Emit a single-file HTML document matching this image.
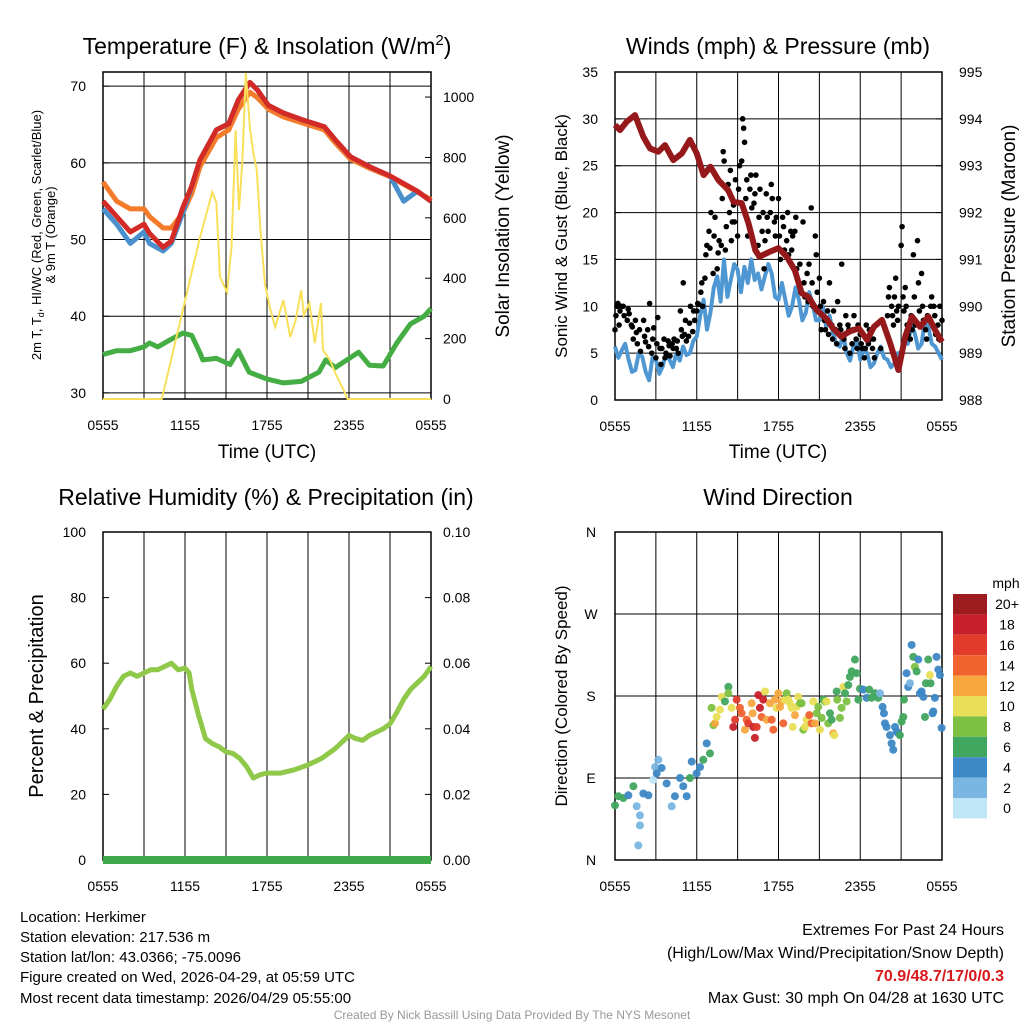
<!DOCTYPE html>
<html><head><meta charset="utf-8"><style>
html,body{margin:0;padding:0;background:#fff;}
svg{display:block;font-family:"Liberation Sans",sans-serif;}
</style></head><body>
<svg id="chart" width="1024" height="1024" viewBox="0 0 1024 1024" xmlns="http://www.w3.org/2000/svg">
<rect width="1024" height="1024" fill="#fff"/>
<g id="layer"></g>
<text x="267" y="54" font-size="23" text-anchor="middle">Temperature (F) &amp; Insolation (W/m<tspan dy="-9" font-size="15">2</tspan><tspan dy="9">)</tspan></text>
<text x="778" y="54" font-size="23" text-anchor="middle">Winds (mph) &amp; Pressure (mb)</text>
<text x="266" y="505" font-size="23" text-anchor="middle">Relative Humidity (%) &amp; Precipitation (in)</text>
<text x="778" y="505" font-size="23" text-anchor="middle">Wind Direction</text>
<text x="267" y="458" font-size="19" text-anchor="middle">Time (UTC)</text>
<text x="778" y="458" font-size="19" text-anchor="middle">Time (UTC)</text>
<text transform="translate(41,235) rotate(-90)" font-size="13" text-anchor="middle">2m T, T<tspan font-size="9" dy="3">d</tspan><tspan dy="-3">, HI/WC (Red, Green, Scarlet/Blue)</tspan></text>
<text transform="translate(55,235) rotate(-90)" font-size="13" text-anchor="middle">&amp; 9m T (Orange)</text>
<text transform="translate(509,236) rotate(-90)" font-size="19" text-anchor="middle">Solar Insolation (Yellow)</text>
<text transform="translate(567,236) rotate(-90)" font-size="17" text-anchor="middle">Sonic Wind &amp; Gust (Blue, Black)</text>
<text transform="translate(1015,236) rotate(-90)" font-size="19" text-anchor="middle">Station Pressure (Maroon)</text>
<text transform="translate(43,696) rotate(-90)" font-size="20" text-anchor="middle">Percent &amp; Precipitation</text>
<text transform="translate(567,696) rotate(-90)" font-size="17" text-anchor="middle">Direction (Colored By Speed)</text>
<g font-size="15">
<text x="20" y="922">Location: Herkimer</text>
<text x="20" y="942">Station elevation: 217.536 m</text>
<text x="20" y="962">Station lat/lon: 43.0366; -75.0096</text>
<text x="20" y="982">Figure created on Wed, 2026-04-29, at 05:59 UTC</text>
<text x="20" y="1003">Most recent data timestamp: 2026/04/29 05:55:00</text>
</g>
<g font-size="16" text-anchor="end">
<text x="1004" y="935">Extremes For Past 24 Hours</text>
<text x="1004" y="958">(High/Low/Max Wind/Precipitation/Snow Depth)</text>
<text x="1004" y="981" fill="#d7191c" font-weight="bold">70.9/48.7/17/0/0.3</text>
<text x="1004" y="1003">Max Gust: 30 mph On 04/28 at 1630 UTC</text>
</g>
<text x="512" y="1019" font-size="12" fill="#999" text-anchor="middle">Created By Nick Bassill Using Data Provided By The NYS Mesonet</text>
</svg>
<script>
const xTickLabels=["0555","1155","1755","2355","0555"];
// Temperature panel data
const tempHours=[0,1,2,3,3.4,4.4,5,5.85,6.5,7.1,8.3,9.2,9.9,10.75,11.3,12.1,13.2,14.6,16.2,17,18.1,19.5,21,22,23,24];
const tempRed=[55,53,51,52,50.8,49,49.8,54.2,57,60.4,64.3,65.1,68.2,70.5,69.5,67.5,66.5,65.6,64.7,63,60.8,59.5,58.3,57.3,56.3,55];
const tempOrange=[57.5,55,54,54,53,51.5,51.5,53.5,56,59.5,63.3,64.3,67,69.2,68.5,67,66,65.2,64.3,62.6,60.5,59.3,58.2,57.2,56.2,55.2];
const tempBlue=[54,52,49.5,51,49.5,48.5,49.5,53.5,57,60.4,64.3,65.1,68.2,70.5,69.5,67.5,66.5,65.6,64.7,63,60.8,59.5,58.3,55,56.3,55];
const dewHours=[0,1,2,3,3.4,4,5,5.85,6.5,7.1,7.3,8.3,9.3,9.9,10.7,12,13.2,14.5,15.8,16.3,17,18.7,19.5,20.5,21.5,22.5,23.5,24];
const dewValues=[35,35.5,35.5,36,36.5,36,37,37.8,37.5,35.2,34.3,34.5,33.7,35.5,32.7,31.8,31.3,31.5,32.7,34.3,33.3,35.3,33.6,33.5,36.5,39,40,41];
const solarHours=[0,4.3,5.85,7.1,8.0,8.3,8.56,9.07,9.4,9.7,9.95,10.2,10.45,10.75,11.0,11.25,11.5,11.85,12.2,12.6,13.2,13.7,14.1,14.5,14.7,15.1,15.5,15.95,16.1,16.6,17.0,17.6,17.9,24];
const solarValues=[0,0,295,536,685,650,404,354,503,890,626,790,1080,900,815,758,570,384,305,238,328,205,262,361,278,318,185,318,162,129,86,30,0,0];
// Wind panel data
const pressHours=[0,0.37,0.86,1.47,2.08,2.57,3.18,3.67,4.28,4.9,5.5,6.0,6.5,7.0,7.6,8.3,8.7,9.3,9.8,10.3,10.6,11.4,12.0,12.6,13.2,13.7,14.2,14.8,15.5,16.0,16.6,17.2,17.9,18.5,19.0,19.6,20.2,20.8,21.3,21.8,22.4,23.0,23.5,24];
const pressValues=[993.87,993.76,993.94,994.08,993.62,993.37,993.3,993.44,993.12,993.26,993.55,993.26,992.8,992.98,992.69,992.48,992.23,992.2,991.77,991.2,991.06,991.17,991.24,991.06,990.77,990.28,990.2,989.92,989.74,989.53,989.35,989.46,989.53,989.28,989.56,989.71,989.21,988.64,989.35,989.78,989.56,989.78,989.49,989.24];
const windHours=[0,0.25,0.5,0.75,1,1.25,1.5,1.75,2,2.25,2.5,2.75,3,3.25,3.5,3.75,4,4.25,4.5,4.75,5,5.25,5.5,5.75,6,6.25,6.5,6.75,7,7.25,7.5,7.75,8,8.25,8.5,8.75,9,9.25,9.5,9.75,10,10.25,10.5,10.75,11,11.25,11.5,11.75,12,12.25,12.5,12.75,13,13.25,13.5,13.75,14,14.25,14.5,14.75,15,15.25,15.5,15.75,16,16.25,16.5,16.75,17,17.25,17.5,17.75,18,18.25,18.5,18.75,19,19.25,19.5,19.75,20,20.25,20.5,20.75,21,21.25,21.5,21.75,22,22.25,22.5,22.75,23,23.25,23.5,23.75,24];
const windValues=[5.7,4.5,5.3,6,4.3,3,3.2,5,4.6,3,2.1,4.5,4.3,2.8,3.6,5,4.3,3.5,5,4.2,5.7,4.8,5,6.3,6.8,9,10.7,7.5,9.3,12,13.2,10.5,15,11,12.8,14.5,13.9,11.5,14.2,12.5,15,12.8,13.5,11.8,13.2,14.5,13.5,11,10.7,12.5,10.7,9,10,12,10.7,8.5,9.3,11.5,10.3,8.5,8.5,10,7.8,9,7.1,6,5.7,7,5,4.2,5.7,6.5,4.3,5.5,5,3.5,3.9,5,5.7,4.5,4.3,3.5,3.9,5,5,6.5,6,8,7.1,5.5,6,8.5,7.8,6,5.7,5,4.3];
const gustTimes=[0,0.3,0.6,0.9,1.2,1.5,1.8,2.1,2.4,2.7,3.0,3.3,3.6,3.9,4.2,4.5,4.8,5.1,5.4,5.7,6.0,6.3,6.6,6.9,7.2,7.5,7.8,8.1,8.4,8.7,9.0,9.3,9.6,9.9,10.2,10.5,10.8,11.1,11.4,11.7,12.0,12.3,12.6,12.9,13.2,13.5,13.8,14.1,14.4,14.7,15.0,15.3,15.6,15.9,16.2,16.5,16.8,17.1,17.4,17.7,18.0,18.3,18.6,18.9,19.5,20.0,20.3,20.6,21.0,21.3,21.6,21.9,22.2,22.5,22.8,23.1,23.4,23.7,24.0];
const gustValues=[[7.5,9,10,10.3],[8,9.5,10],[10,9],[8.5,9.7,9.2],[8,7.8,6.5],[8.5,7.2,6],[7.5,5.2],[8.5,6.8,6.2],[7.5,5.7,10.3],[5,6.5,7.7],[4.5,6,8.8],[5.5,3.8,5.5],[6.5,4.5,5],[6.3,5.8,4.7],[6,5.5,6.5],[5.5,6.3,5],[9.5,7.5,6.8,12.5],[7,8.5,6.3],[6.8,8.2,10],[7.3,9.5,8.5],[9.5,10.3,10.2],[11.5,12.5,10],[13,15.5,16.5],[18,16.2,20],[13.5,17.5,19.5],[14,15.7,17],[16.5,21.5,26.5,25.5],[16,18.5,22.5,23],[20,24.5,17,19],[20.8,19,23.5],[17.5,22.5,25],[25.5,30,29,27.5],[21.5,23.5,17.5],[22.5,24,20.5],[21,22,24],[16.5,19.5,22.5],[18,20,14,17],[22,19.5,18],[20,23,21.5],[19,17.5,19.5],[21.5,17.5,15],[19.5,18.5,16],[17,20,15.5],[18,16,17.5],[18,19.5,14],[12.5,14.5,11.5],[19,12.5,11],[13.5,10.5,14.5],[20.5,12.5,10],[17.5,15.5,11.5],[13,10,7.5],[10.5,8.5,7.5],[9.5,7,12.5],[8,6.5,9.5],[7.5,6,10.5],[8,7.5,14.5],[6.5,5.5,9],[8,7.5,5],[6,7.5,9],[6.5,5.5,8],[7,6,5.5],[4.5,5.5,8],[6,7.5,6.5],[5.5,6.5,4.5],[5.5],[9,11,12],[10,9,8,11],[13,9.5,8.5,10],[16.5,18.5,11,9.5],[12,10,8,7],[8,6.5,9,7.5],[15.5,11,8],[17,12.5,9.5],[13.5,10,8.5],[7.5,6.5,9],[8.5,10,11],[10,9,7],[8,6.5,10],[8.5]];
// RH panel data
const rhHours=[0,0.5,1,1.5,2,2.5,3,3.5,4,4.5,5,5.5,6,6.3,6.5,7,7.5,8,8.5,9,9.5,10,10.5,11,11.5,12,13,14,15,16,17,17.5,18,18.5,19,19.5,20,20.5,21,21.5,22,22.5,23,23.5,24];
const rhValues=[46,49,53,56,57,56,57,58,58,59,60,58,58.5,57,52,44,37,35.5,34.5,33,32.5,31,28.5,25,26,26.5,26.5,27.5,29,31,34,36,38,37,36.5,38,39,40,41.5,45,49,52,54,56,59];
const precipHours=[0,24];
const precipValues=[0,0];
// Wind direction panel data
const dirHours=[0,0.24,0.61,0.98,1.35,1.59,1.83,1.83,1.71,2.08,2.45,2.81,2.94,3.18,3.06,3.42,3.79,4.16,4.40,4.77,5.01,5.26,5.50,5.63,5.99,6.24,6.48,6.73,6.97,7.09,7.22,7.34,7.46,7.70,7.83,8.07,8.32,8.32,8.56,8.68,8.81,8.93,9.17,9.29,9.54,9.66,9.78,10.03,10.10,10.15,10.27,10.40,10.52,10.64,10.76,10.88,11.01,11.13,11.37,11.50,11.62,11.74,11.86,11.99,12.11,12.23,12.35,12.47,12.60,12.72,12.84,12.96,13.04,13.21,13.33,13.45,13.58,13.70,13.82,13.94,14.06,14.26,14.43,14.55,14.68,14.80,14.92,15.04,15.17,15.29,15.41,15.53,15.65,15.78,15.90,16.02,16.09,16.27,16.31,16.51,16.63,16.76,16.88,17.00,17.12,17.24,17.37,17.61,17.73,17.86,17.98,18.22,18.47,18.66,18.83,19.08,19.32,19.45,19.64,19.74,19.81,19.93,20.18,20.30,20.42,20.55,20.67,20.79,20.91,21.04,21.16,21.21,21.40,21.52,21.65,21.77,21.89,22.01,22.14,22.26,22.38,22.50,22.63,22.75,22.82,22.99,23.11,23.16,23.31,23.36,23.48,23.60,23.73,23.85,23.97];
const dirDegrees=[60,70,68,71,81,59,49,38,16,73,71,88,102,110,95,101,84,59,70,90,81,70,90,108,95,102,110,128,117,167,148,150,157,165,179,174,190,183,167,146,154,176,167,161,143,154,150,172,161,146,134,146,181,167,157,176,185,154,172,154,143,176,167,183,168,174,150,176,183,176,172,167,146,159,168,179,172,172,143,146,154,159,150,174,150,161,168,143,156,176,174,174,150,161,154,139,137,185,176,156,167,190,183,174,192,201,207,220,205,176,188,187,178,187,178,183,178,183,168,161,150,146,137,128,121,146,141,139,137,152,157,176,205,190,194,236,223,212,207,220,183,185,179,157,194,220,203,194,161,163,178,223,209,203,145];
const dirSpeeds=[6,6,6,4,6,2,2,2,2,4,4,1,2,2,4,4,4,2,4,4,4,4,6,4,4,4,6,4,6,8,8,12,10,10,10,6,6,8,10,18,16,16,14,14,12,14,16,12,12,18,18,16,18,18,14,18,10,12,12,14,14,12,10,12,12,12,14,10,8,10,10,10,10,12,10,10,8,8,8,10,10,14,14,10,12,8,8,10,8,6,8,10,8,6,6,12,10,6,8,8,8,10,6,8,6,6,6,6,6,6,6,4,4,6,6,6,6,2,4,4,4,4,4,4,4,4,4,4,6,6,6,6,4,4,2,4,6,8,6,4,4,4,4,6,6,6,10,6,4,4,4,4,4,4,4];
const cbLabels=["20+","18","16","14","12","10","8","6","4","2","0"];
const cbColors=["#9b1b1e","#c8202a","#e03b2b","#f0622e","#f7a73f","#e8de57","#7dc143","#41a65e","#3d88c6","#79b6e2","#bfe6f7"];

const NS="http://www.w3.org/2000/svg";
const layer=document.getElementById('layer');
function mk(tag,attrs,parent){const e=document.createElementNS(NS,tag);for(const k in attrs)e.setAttribute(k,attrs[k]);(parent||layer).appendChild(e);return e;}
function lin(d0,d1,r0,r1){return v=>r0+(v-d0)/(d1-d0)*(r1-r0);}
function linePath(xs,ys,fx,fy){return xs.map((h,i)=>(i?'L':'M')+fx(h).toFixed(1)+','+fy(ys[i]).toFixed(1)).join('');}

function frame(L,R,T,B,name,hLines){
  const g=mk('g',{});
  
  
  for(let i=1;i<8;i++){const x=L+(R-L)*i/8;mk('line',{x1:x,x2:x,y1:T,y2:B,stroke:'#000','stroke-width':1},g);}
  hLines.forEach(y=>mk('line',{x1:L,x2:R,y1:y,y2:y,stroke:'#000','stroke-width':1},g));
  mk('rect',{x:L,y:T,width:R-L,height:B-T,fill:'none',stroke:'#000','stroke-width':1.5},g);
  const fx=lin(0,24,L,R);
  xTickLabels.forEach((t,i)=>{
    const tx=mk('text',{x:fx(i*6),y:B+31,'font-size':14,'text-anchor':'middle'});
    tx.textContent=t;
    
    
  });
  return g;
}
function yTicks(vals,labels,fy,x,anchor,tickX,dir,name){
  vals.forEach((v,i)=>{
    const y=fy(v);
    mk('line',{x1:tickX,x2:tickX+dir*6,y1:y,y2:y,stroke:'#000'});
    const t=mk('text',{x:x,y:y+5,'font-size':14,'text-anchor':anchor});
    t.textContent=labels[i];
    
    
  });
}

// ---- Panel 1
(function(){
  const L=103,R=431,T=72,B=399;
  const fx=lin(0,24,L,R), fy=lin(29.2,71.85,B,T), fs=lin(0,1083,B,T);
  frame(L,R,T,B,'temp-plot-frame',[30,40,50,60,70].map(fy));
  yTicks([30,40,50,60,70],["30","40","50","60","70"],fy,L-17,'end',L,1,'temp-y-tick');
  yTicks([0,200,400,600,800,1000],["0","200","400","600","800","1000"],fs,R+12,'start',R,-1,'solar-y-tick');
  const s=[['tempOrange',tempHours,tempOrange,'#f47b2a',5],['tempBlue',tempHours,tempBlue,'#4a90cc',5],['tempRed',tempHours,tempRed,'#d42a26',5],['dewpoint',dewHours,dewValues,'#44ad44',5]];
  s.forEach(a=>{const p=mk('path',{d:linePath(a[1],a[2],fx,fy),fill:'none',stroke:a[3],'stroke-width':a[4],'stroke-linejoin':'round'});
    
    });
  const p=mk('path',{d:linePath(solarHours,solarValues,fx,fs),fill:'none',stroke:'#f9e05a','stroke-width':2});
  
  
})();

// ---- Panel 2
(function(){
  const L=615,R=942,T=72,B=400;
  const fx=lin(0,24,L,R), fy=lin(0,35,B,T), fp=lin(988,995,B,T);
  frame(L,R,T,B,'wind-plot-frame',[5,10,15,20,25,30].map(fy));
  yTicks([0,5,10,15,20,25,30,35],["0","5","10","15","20","25","30","35"],fy,L-17,'end',L,1,'wind-y-tick');
  yTicks([988,989,990,991,992,993,994,995],["988","989","990","991","992","993","994","995"],fp,R+17,'start',R,-1,'pressure-y-tick');
  const w=mk('path',{d:linePath(windHours,windValues,fx,fy),fill:'none',stroke:'#4f97d2','stroke-width':4,'stroke-linejoin':'round'});
  
  
  gustTimes.forEach((h,i)=>gustValues[i].forEach((v,j)=>{
    const c=mk('circle',{cx:fx(h+j*0.07),cy:fy(v),r:2.8,fill:'#000'});
    
    
  }));
  const p=mk('path',{d:linePath(pressHours,pressValues,fx,fp),fill:'none',stroke:'#95181b','stroke-width':6,'stroke-linejoin':'round'});
  
  
})();

// ---- Panel 3
(function(){
  const L=103,R=431,T=532,B=860;
  const fx=lin(0,24,L,R), fy=lin(0,100,B,T), fp=lin(0,0.1,B,T);
  frame(L,R,T,B,'rh-plot-frame',[]);
  yTicks([0,20,40,60,80,100],["0","20","40","60","80","100"],fy,L-17,'end',L,1,'rh-y-tick');
  yTicks([0,0.02,0.04,0.06,0.08,0.1],["0.00","0.02","0.04","0.06","0.08","0.10"],fp,R+12,'start',R,-1,'precip-y-tick');
  const r=mk('path',{d:linePath(rhHours,rhValues,fx,fy),fill:'none',stroke:'#90c84a','stroke-width':5,'stroke-linejoin':'round'});
  
  
  const p=mk('path',{d:linePath(precipHours,precipValues,fx,fp),fill:'none',stroke:'#3fa84a','stroke-width':8});
  
  
})();

// ---- Panel 4
(function(){
  const L=615,R=942,T=532,B=860;
  const fx=lin(0,24,L,R), fy=lin(0,360,B,T);
  frame(L,R,T,B,'dir-plot-frame',[90,180,270].map(fy));
  yTicks([0,90,180,270,360],["N","E","S","W","N"],fy,L-24,'middle',L,1,'dir-y-tick');
  dirHours.forEach((h,i)=>{
    const s=(dirSpeeds[i]===undefined)?4:dirSpeeds[i];
    const idx=Math.max(0,Math.min(10,10-Math.floor(s/2)));
    const c=mk('circle',{cx:fx(h),cy:fy(dirDegrees[i]),r:4,fill:cbColors[idx],'fill-opacity':0.95});
    
    
  });
  const top=594,h=20.4;
  const mph=mk('text',{x:1006,y:588,'font-size':14,'text-anchor':'middle'});mph.textContent='mph';
  
  
  cbLabels.forEach((lab,i)=>{
    const rc=mk('rect',{x:953,y:top+i*h,width:34,height:h,fill:cbColors[i]});
    
    
    const t=mk('text',{x:1007,y:top+i*h+h/2+5,'font-size':14,'text-anchor':'middle'});t.textContent=lab;
    
    
  });
})();
</script>
</body></html>
